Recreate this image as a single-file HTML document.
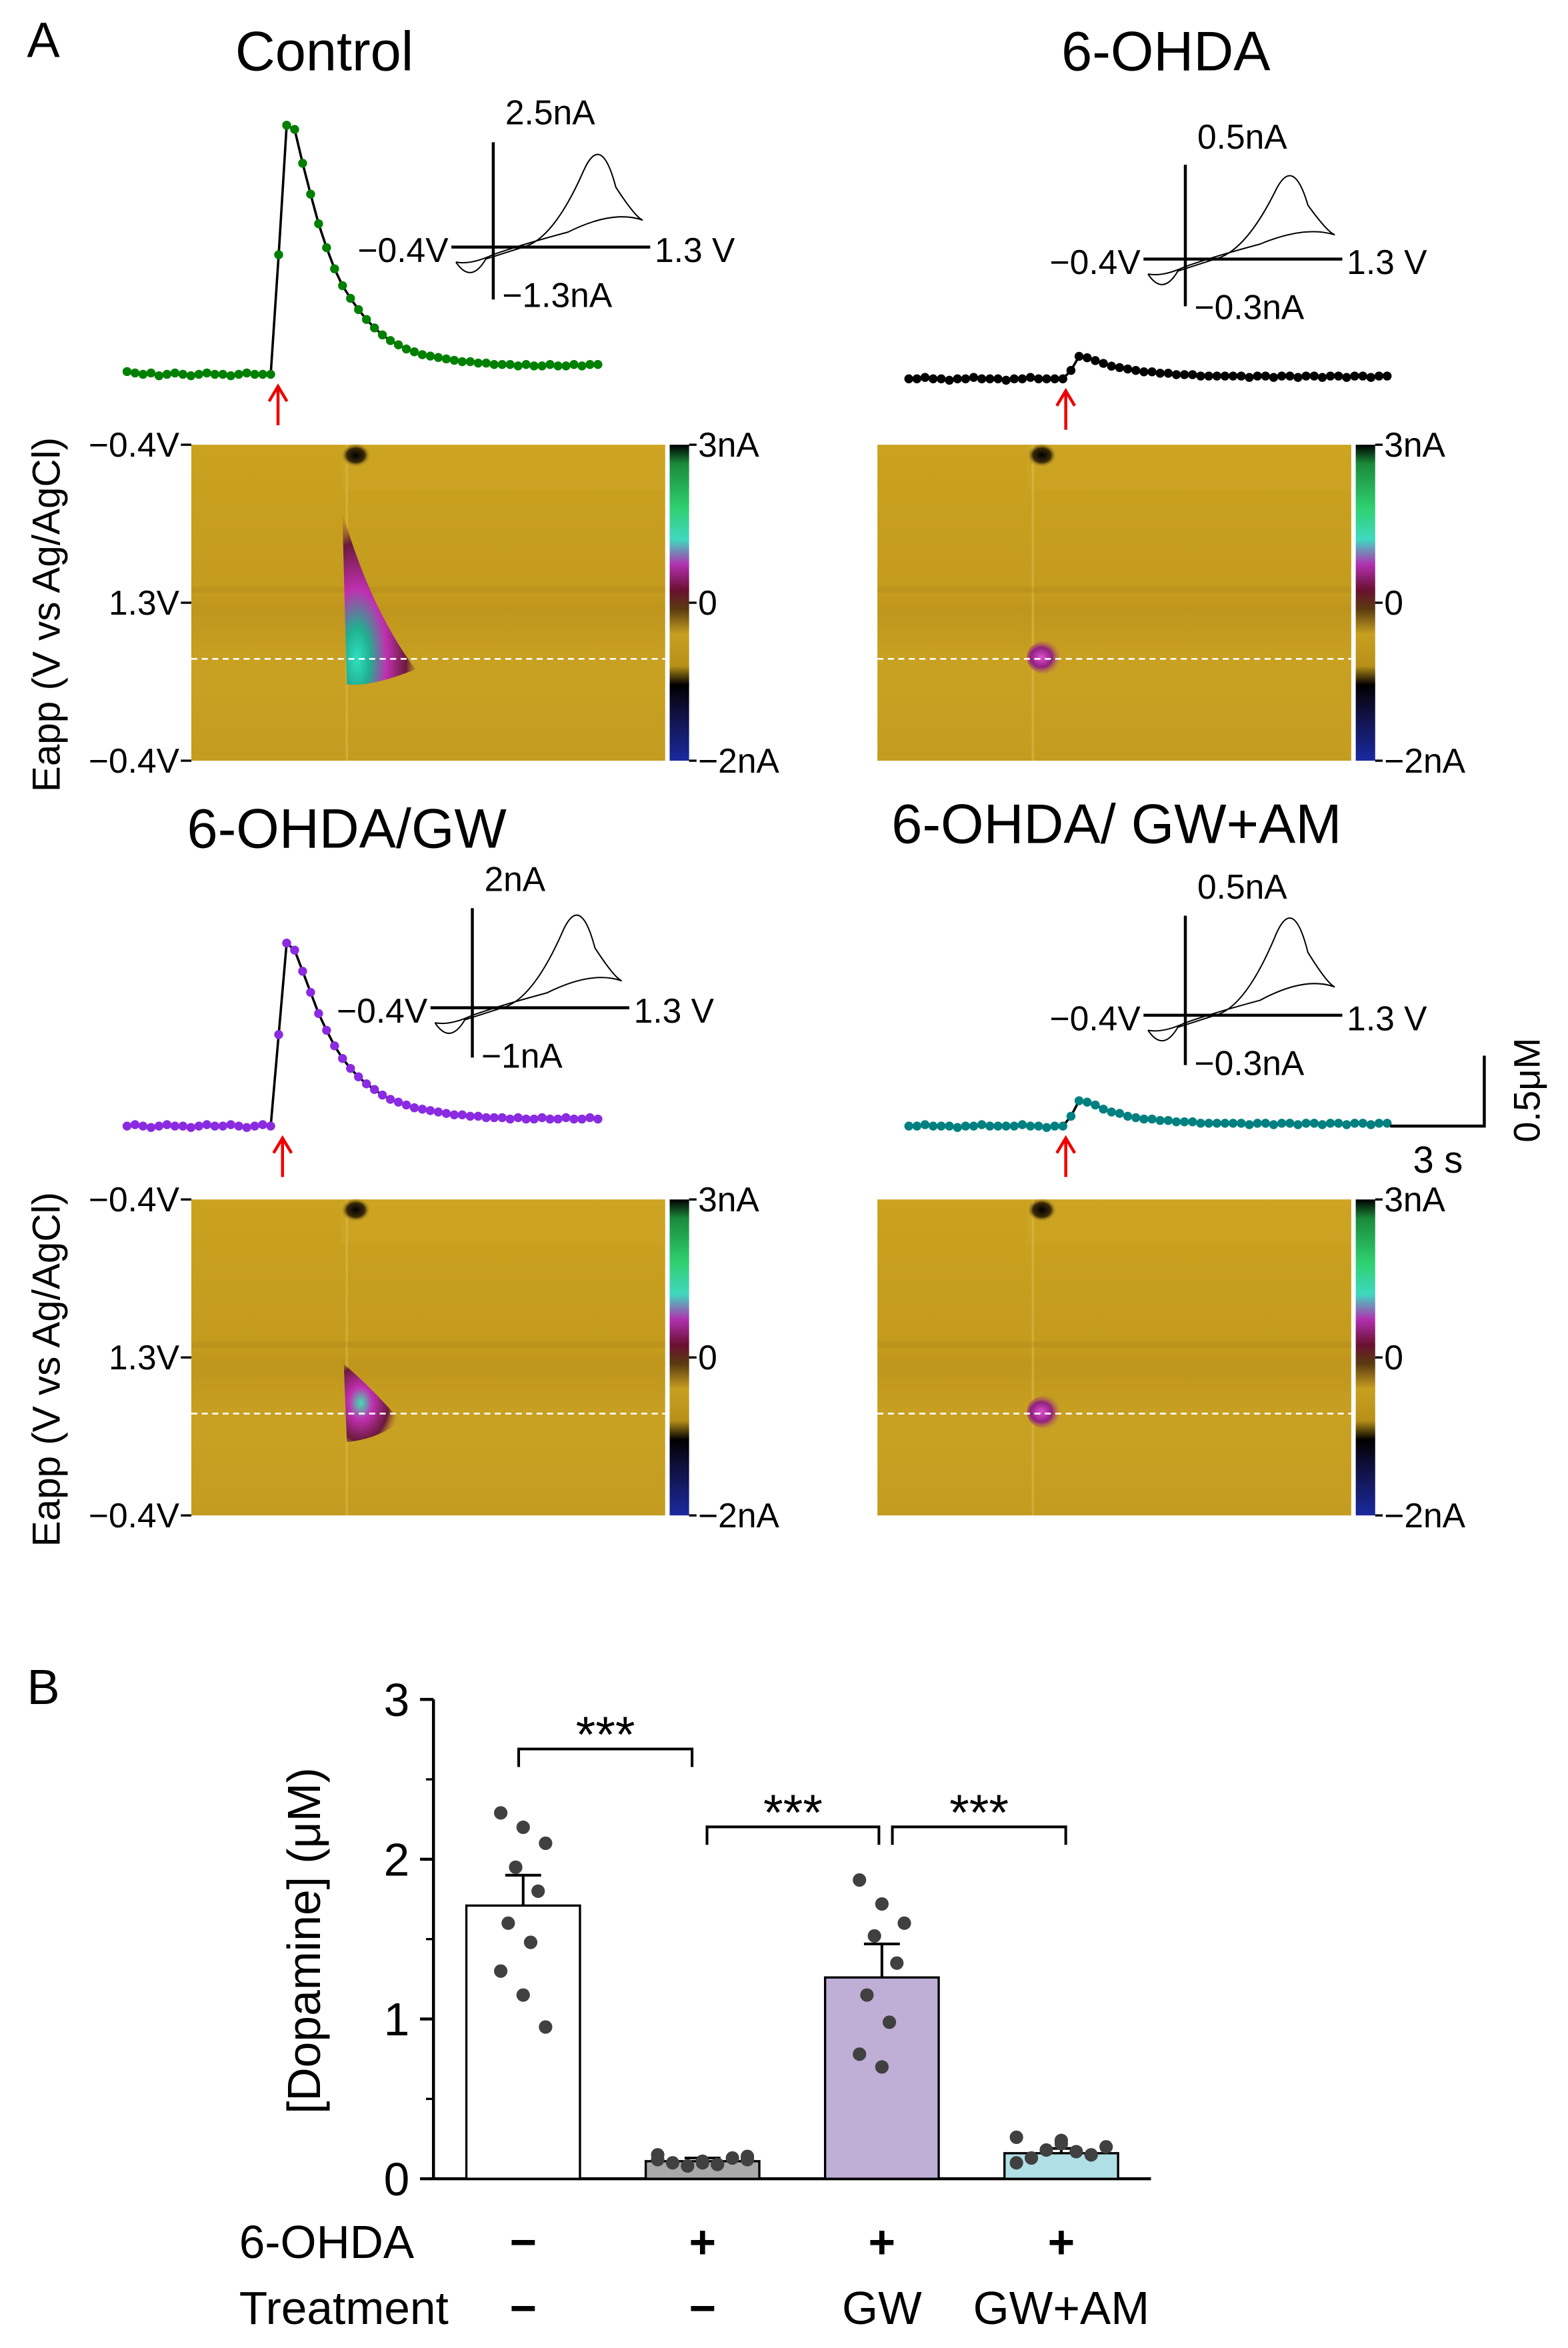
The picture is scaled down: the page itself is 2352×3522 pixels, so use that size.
<!DOCTYPE html>
<html><head><meta charset="utf-8"><style>
html,body{margin:0;padding:0;background:#fff}
svg{display:block}
text{font-family:"Liberation Sans",Arial,sans-serif;fill:#000}
</style></head><body>
<svg id="fig" width="2352" height="3522" viewBox="0 0 1049 1568" preserveAspectRatio="none" xmlns="http://www.w3.org/2000/svg">
<defs>
<linearGradient id="cbar" x1="0" y1="0" x2="0" y2="1">
<stop offset="0" stop-color="#000"/><stop offset="0.06" stop-color="#1a8a3a"/><stop offset="0.2" stop-color="#2fd070"/><stop offset="0.3" stop-color="#40d8c0"/><stop offset="0.38" stop-color="#b030b0"/><stop offset="0.46" stop-color="#6a1030"/><stop offset="0.52" stop-color="#5a3a10"/><stop offset="0.6" stop-color="#c8a020"/><stop offset="0.7" stop-color="#b89018"/><stop offset="0.76" stop-color="#000"/><stop offset="0.85" stop-color="#101040"/><stop offset="1" stop-color="#1a2aa0"/>
</linearGradient>
<radialGradient id="blobBig" cx="0.2" cy="0.85" r="0.9">
<stop offset="0" stop-color="#30e0c0"/><stop offset="0.2" stop-color="#20b090"/><stop offset="0.45" stop-color="#c030b0"/><stop offset="0.75" stop-color="#6a1a3a"/><stop offset="1" stop-color="#c9a227" stop-opacity="0"/>
</radialGradient>
<radialGradient id="blobMid" cx="0.3" cy="0.5" r="0.7">
<stop offset="0" stop-color="#40e0b0"/><stop offset="0.3" stop-color="#c030b0"/><stop offset="0.7" stop-color="#6a1a3a"/><stop offset="1" stop-color="#c9a227" stop-opacity="0"/>
</radialGradient>
<radialGradient id="blobSmall" cx="0.4" cy="0.5" r="0.6">
<stop offset="0" stop-color="#e050d0"/><stop offset="0.5" stop-color="#902080"/><stop offset="1" stop-color="#c9a227" stop-opacity="0"/>
</radialGradient>
<radialGradient id="dark" cx="0.5" cy="0.5" r="0.5">
<stop offset="0" stop-color="#000"/><stop offset="0.6" stop-color="#3a2a08"/><stop offset="1" stop-color="#c9a227" stop-opacity="0"/>
</radialGradient>
<linearGradient id="hmbg" x1="0" y1="0" x2="0" y2="1">
<stop offset="0" stop-color="#caa21f"/><stop offset="0.48" stop-color="#c49b1d"/><stop offset="0.52" stop-color="#bf961c"/><stop offset="0.7" stop-color="#c9a122"/><stop offset="1" stop-color="#c49c20"/>
</linearGradient>
</defs>
<text x="18" y="38" font-size="33">A</text>
<text x="217" y="47" font-size="37" text-anchor="middle">Control</text>
<text x="780" y="47" font-size="37" text-anchor="middle">6-OHDA</text>
<text x="232" y="566" font-size="37" text-anchor="middle">6-OHDA/GW</text>
<text x="747" y="563" font-size="37" text-anchor="middle">6-OHDA/ GW+AM</text>
<g id="traces"></g>
<g id="heatmaps"></g>
<g id="insets"></g>
<g>
<path d="M993 705 V752 H930" stroke="#000" stroke-width="2" fill="none"/>
<text x="962" y="783" font-size="25" text-anchor="middle">3 s</text>
<text x="1030" y="728" font-size="25" text-anchor="middle" transform="rotate(-90 1030 728)">0.5μM</text>
</g>
<text x="18" y="1138" font-size="33">B</text>
<g id="barchart"></g>
</svg>
<script>
const NS="http://www.w3.org/2000/svg";
function mk(tag,attrs,parent,txt){const e=document.createElementNS(NS,tag);for(const k in attrs)e.setAttribute(k,attrs[k]);if(txt!==undefined)e.textContent=txt;parent.appendChild(e);return e;}

// ---- Trace data (μM) ----
const traceControl=[0.02,0.01,0.0,0.01,-0.01,0.0,0.01,0.0,-0.01,0.0,0.01,0.0,0.0,-0.01,0.0,0.01,0.0,0.0,0.0,0.85,1.77,1.74,1.5,1.28,1.07,0.9,0.75,0.63,0.54,0.46,0.39,0.33,0.28,0.24,0.21,0.18,0.16,0.14,0.13,0.12,0.11,0.1,0.09,0.09,0.08,0.08,0.07,0.07,0.07,0.06,0.07,0.06,0.06,0.07,0.06,0.06,0.07,0.06,0.07,0.07];
const trace6OHDA=[0.0,0.0,0.01,0.0,0.0,-0.01,0.0,0.0,0.01,0.0,0.0,0.0,-0.01,0.0,0.0,0.01,0.0,0.0,0.0,0.0,0.06,0.16,0.15,0.13,0.11,0.09,0.08,0.07,0.06,0.05,0.05,0.04,0.04,0.03,0.03,0.03,0.02,0.02,0.02,0.02,0.02,0.02,0.01,0.02,0.02,0.01,0.02,0.02,0.01,0.02,0.02,0.01,0.02,0.02,0.01,0.02,0.02,0.01,0.02,0.02];
const traceGW=[0.0,0.01,0.0,-0.01,0.0,0.01,0.0,0.0,-0.01,0.0,0.01,0.0,0.0,0.01,0.0,-0.01,0.0,0.01,0.0,0.65,1.3,1.25,1.1,0.95,0.8,0.68,0.57,0.48,0.41,0.35,0.3,0.26,0.22,0.19,0.17,0.15,0.13,0.12,0.11,0.1,0.09,0.08,0.08,0.07,0.07,0.06,0.06,0.06,0.05,0.06,0.05,0.05,0.06,0.05,0.05,0.06,0.05,0.05,0.06,0.05];
const traceAM=[0.0,0.0,0.01,0.0,0.0,0.0,-0.01,0.0,0.0,0.01,0.0,0.0,0.0,0.0,0.01,0.0,0.0,-0.01,0.0,0.0,0.07,0.18,0.17,0.15,0.12,0.1,0.09,0.07,0.06,0.05,0.05,0.04,0.04,0.03,0.03,0.03,0.02,0.02,0.02,0.02,0.02,0.02,0.01,0.02,0.02,0.01,0.02,0.02,0.01,0.02,0.02,0.01,0.02,0.02,0.01,0.02,0.02,0.01,0.02,0.02];
const pxPerUM=94;
const tr=document.getElementById('traces');
function drawTrace(vals,x0,x1,yBase,color,name,arrowX){
  const g=mk('g',{},tr);
  
  
  const step=(x1-x0)/(vals.length-1);
  const pts=vals.map((v,i)=>[x0+i*step,yBase-v*pxPerUM]);
  mk('polyline',{points:pts.map(p=>p.join(',')).join(' '),fill:'none',stroke:'#000','stroke-width':1.6},g);
  pts.forEach(p=>{mk('circle',{cx:p[0],cy:p[1],r:3,fill:color},g);});
  const a=mk('g',{},tr);
  
  
  mk('path',{d:`M${arrowX} ${yBase+34} V${yBase+8} M${arrowX-6} ${yBase+18} L${arrowX} ${yBase+8} L${arrowX+6} ${yBase+18}`,stroke:'#e00',fill:'none','stroke-width':2},a);
}
drawTrace(traceControl,85,400,250,'#008000','trace-control',186);
drawTrace(trace6OHDA,608,928,253,'#000','trace-6ohda',713);
drawTrace(traceGW,85,400,752,'#8a2be2','trace-6ohda-gw',189);
drawTrace(traceAM,608,928,752,'#008080','trace-6ohda-gw-am',713);

// ---- Heatmaps ----
const hm=document.getElementById('heatmaps');
function heat(x,y,showAxis,blobType,name){
  const g=mk('g',{},hm);
  
  
  const w=317,h=211;
  mk('rect',{x,y,width:w,height:h,fill:'url(#hmbg)'},g);
  mk('rect',{x:x+100,y,width:217,height:30,fill:'#d4ac2a',opacity:0.3},g);
  mk('line',{x1:x+104,y1:y,x2:x+104,y2:y+h,stroke:'#e0c050','stroke-width':1.5,opacity:0.5},g);
  mk('rect',{x:x,y:y+h*0.45,width:w,height:4,fill:'#a88418',opacity:0.3},g);
  mk('ellipse',{cx:x+110,cy:y+7,rx:10,ry:8,fill:'url(#dark)'},g);
  if(blobType==='big') mk('path',{d:`M${x+101} ${y+45} L${x+104} ${y+160} Q${x+120} ${y+162} ${x+150} ${y+150} Q${x+120} ${y+110} ${x+101} ${y+45}Z`,fill:'url(#blobBig)'},g);
  if(blobType==='mid') mk('path',{d:`M${x+102} ${y+110} L${x+104} ${y+162} Q${x+125} ${y+160} ${x+140} ${y+148} Q${x+120} ${y+125} ${x+102} ${y+110}Z`,fill:'url(#blobMid)'},g);
  if(blobType==='small') mk('ellipse',{cx:x+112,cy:y+142,rx:12,ry:11,fill:'url(#blobSmall)'},g);
  mk('line',{x1:x,y1:y+143,x2:x+w,y2:y+143,stroke:'#fff','stroke-width':1.2,'stroke-dasharray':'4,3'},g);
  mk('rect',{x:x+w+3,y,width:13,height:h,fill:'url(#cbar)'},g);
  const cx=x+w+16;
  [[y,'3nA'],[y+h/2,'0'],[y+h,'−2nA']].forEach(([yy,t])=>{mk('line',{x1:cx,y1:yy,x2:cx+5,y2:yy,stroke:'#000','stroke-width':1.5},g);mk('text',{x:cx+6,y:yy+8,'font-size':23},g,t);});
  if(showAxis){
    [[y,'−0.4V'],[y+h/2,'1.3V'],[y+h,'−0.4V']].forEach(([yy,t])=>{mk('line',{x1:x-7,y1:yy,x2:x,y2:yy,stroke:'#000','stroke-width':1.5},g);mk('text',{x:x-8,y:yy+8,'font-size':23,'text-anchor':'end'},g,t);});
    const cyy=y+h/2+8;
    mk('text',{x:40,y:cyy,'font-size':26,'text-anchor':'middle',transform:`rotate(-90 40 ${cyy})`},g,'Eapp (V vs Ag/AgCl)');
  }
}
heat(128,297,true,'big','heatmap-control');
heat(587,297,false,'small','heatmap-6ohda');
heat(128,801,true,'mid','heatmap-6ohda-gw');
heat(587,801,false,'small','heatmap-6ohda-gw-am');

// ---- CV insets ----
const ins=document.getElementById('insets');
function inset(ox,oy,top,bot,left,right,scale,name){
  const g=mk('g',{},ins);
  
  
  mk('line',{x1:ox,y1:oy-70*scale[2],x2:ox,y2:oy+35*scale[2],stroke:'#000','stroke-width':2},g);
  mk('line',{x1:ox-28,y1:oy,x2:ox+105,y2:oy,stroke:'#000','stroke-width':2},g);
  const sy=scale[1];
  const d=`M${ox-25} ${oy+10} Q${ox-15} ${oy+25} ${ox-5} ${oy+8} L${ox+20} ${oy} Q${ox+40} ${oy-5} ${ox+60} ${oy-50*sy} Q${ox+72} ${oy-78*sy} ${ox+82} ${oy-40*sy} Q${ox+95} ${oy-20*sy} ${ox+100} ${oy-18*sy} Q${ox+80} ${oy-25*sy} ${ox+50} ${oy-10} Q${ox+20} ${oy-2} ${ox} ${oy+5} Q${ox-15} ${oy+12} ${ox-25} ${oy+10}`;
  mk('path',{d,fill:'none',stroke:'#000','stroke-width':0.9},g);
  mk('text',{x:ox+8,y:oy-82*scale[2],'font-size':23},g,top);
  mk('text',{x:ox+6,y:oy+40,'font-size':23},g,bot);
  mk('text',{x:ox-30,y:oy+10,'font-size':23,'text-anchor':'end'},g,left);
  mk('text',{x:ox+108,y:oy+10,'font-size':23},g,right);
}
inset(330,165,'2.5nA','−1.3nA','−0.4V','1.3 V',[1,1,1],'cv-inset-control');
inset(793,173,'0.5nA','−0.3nA','−0.4V','1.3 V',[1,0.9,0.9],'cv-inset-6ohda');
inset(316,673,'2nA','−1nA','−0.4V','1.3 V',[1,1,0.95],'cv-inset-6ohda-gw');
inset(793,678,'0.5nA','−0.3nA','−0.4V','1.3 V',[1,1.05,0.95],'cv-inset-6ohda-gw-am');

// ---- Bar chart ----
const barGroups=['Control','6-OHDA','6-OHDA+GW','6-OHDA+GW+AM'];
const barMeans=[1.71,0.11,1.26,0.16];
const barSEM=[0.19,0.02,0.21,0.03];
const barColors=['#ffffff','#a9a9a9','#bfaed6','#b0e0e6'];
const dotsControl=[2.29,2.2,2.1,1.95,1.8,1.6,1.48,1.3,1.15,0.95];
const dots6OHDA=[0.15,0.1,0.12,0.08,0.13,0.1,0.09,0.12,0.11,0.14];
const dotsGW=[1.87,1.72,1.6,1.52,1.35,1.15,0.98,0.78,0.7];
const dotsAM=[0.26,0.24,0.2,0.18,0.15,0.13,0.17,0.1,0.22];
const yTicks=[0,1,2,3];
const rowOHDA=['−','+','+','+'];
const rowTreat=['−','−','GW','GW+AM'];
const bc=document.getElementById('barchart');
const y0=1455,ppu=106.7,xAx=290;
const yS=v=>y0-v*ppu;
const xC=i=>350+i*120;
const ax=mk('g',{},bc);


mk('line',{x1:xAx,y1:yS(3),x2:xAx,y2:y0,stroke:'#000','stroke-width':2},ax);
mk('line',{x1:xAx,y1:y0,x2:770,y2:y0,stroke:'#000','stroke-width':2},ax);
yTicks.forEach(t=>{mk('line',{x1:xAx-9,y1:yS(t),x2:xAx,y2:yS(t),stroke:'#000','stroke-width':2},ax);mk('text',{x:xAx-16,y:yS(t)+11,'font-size':31,'text-anchor':'end'},ax,String(t));
 if(t<3) mk('line',{x1:xAx-5,y1:yS(t+0.5),x2:xAx,y2:yS(t+0.5),stroke:'#000','stroke-width':1.5},ax);});
const yl=mk('text',{x:214,y:1296,'font-size':31,'text-anchor':'middle',transform:'rotate(-90 214 1296)'},bc,'[Dopamine] (μM)');


const allDots=[dotsControl,dots6OHDA,dotsGW,dotsAM];
barGroups.forEach((gname,i)=>{
  const g=mk('g',{},bc);
  
  
  mk('rect',{x:xC(i)-38,y:yS(barMeans[i]),width:76,height:barMeans[i]*ppu,fill:barColors[i],stroke:'#000','stroke-width':1.5},g);
  const top=yS(barMeans[i]+barSEM[i]);
  mk('path',{d:`M${xC(i)} ${yS(barMeans[i])} V${top} M${xC(i)-12} ${top} H${xC(i)+12}`,stroke:'#000','stroke-width':1.8,fill:'none'},g);
  const ds=allDots[i];
  const spread=barMeans[i]<0.5?10:5;
  ds.forEach((v,k)=>{const off=(((k*3)%7)-3)*spread;mk('circle',{cx:xC(i)+off,cy:yS(v),r:4.5,fill:'#404040'},g);});
  mk('text',{x:xC(i),y:1508,'font-size':31,'text-anchor':'middle','font-weight':'bold'},g,rowOHDA[i]);
  mk('text',{x:xC(i),y:1552,'font-size':31,'text-anchor':'middle','font-weight':rowTreat[i].length===1?'bold':'normal'},g,rowTreat[i]);
});
mk('text',{x:160,y:1508,'font-size':31},bc,'6-OHDA');
mk('text',{x:160,y:1552,'font-size':31},bc,'Treatment');
const sig=[[347,463,1168],[473,588,1220],[597,713,1220]];
sig.forEach(([a,b,y])=>{const g=mk('g',{},bc);
 
 
 mk('path',{d:`M${a} ${y+12} V${y} H${b} V${y+12}`,stroke:'#000','stroke-width':1.8,fill:'none'},g);
 mk('text',{x:(a+b)/2,y:y+2,'font-size':34,'text-anchor':'middle'},g,'***');});
</script>
</body></html>
